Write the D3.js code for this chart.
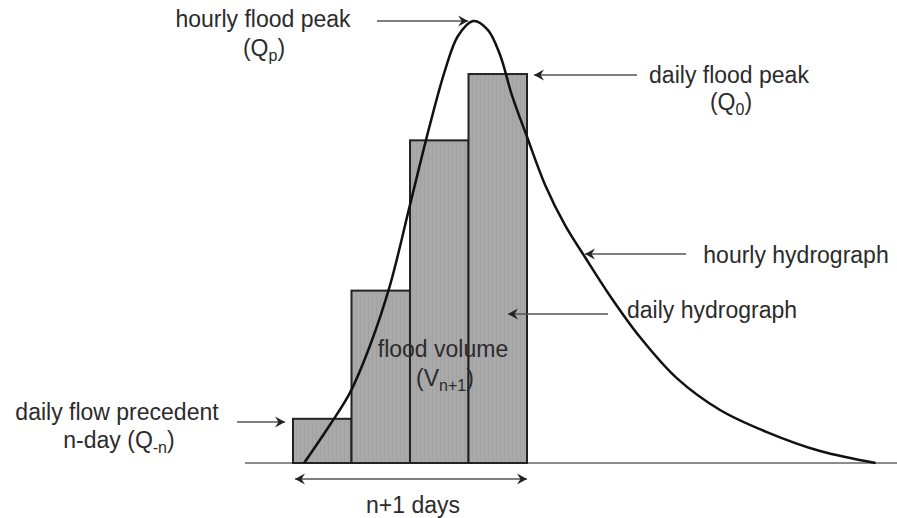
<!DOCTYPE html>
<html>
<head>
<meta charset="utf-8">
<script src="https://cdn.jsdelivr.net/npm/d3@7"></script>
<style>
  body { margin: 0; background: #fff; }
  svg { display: block; }
</style>
</head>
<body>
<svg id="chart"></svg>
<script>
// daily bars (day index, mean daily flow, % of hourly peak)
const days = [0, 1, 2, 3];
const dailyFlow = [10, 39, 73, 88];

// hourly hydrograph (day, flow)
const hourT = [0.19, 0.63, 0.97, 1.32, 1.66, 2.0, 2.34, 2.6, 2.82, 3.08, 3.33, 3.54, 3.74, 4.0, 4.31, 4.65, 4.99, 5.42, 5.93, 6.56, 7.3, 8.1, 9.01, 9.96];
const hourQ = [0, 8.6, 15.8, 26.7, 40.3, 58.4, 76.5, 88.9, 96.6, 100, 98.0, 92.3, 83.3, 73.8, 62.9, 53.8, 46.6, 37.8, 28.5, 19.2, 12.0, 7.0, 2.7, 0];

const width = 897, height = 518;
const svg = d3.select('#chart').attr('width', width).attr('height', height);

const x = d3.scaleLinear().domain([0, 4]).range([293, 527]);
const y = d3.scaleLinear().domain([0, 100]).range([463, 21]);

const textColor = '#2b2b2b';
const arrowColor = '#555';
const font = '"Liberation Sans", Arial, sans-serif';

// arrow head
const defs = svg.append('defs');
defs.append('marker')
  .attr('id', 'head')
  .attr('viewBox', '-10 -6 12 12')
  .attr('refX', 0)
  .attr('refY', 0)
  .attr('markerWidth', 12)
  .attr('markerHeight', 12)
  .attr('markerUnits', 'userSpaceOnUse')
  .attr('orient', 'auto-start-reverse')
  .append('path')
  .attr('d', 'M0,0 L-10,-5.5 L-6.5,0 L-10,5.5 Z')
  .attr('fill', '#222');

// faint vertical texture in the bars
const pat = defs.append('pattern')
  .attr('id', 'stripes')
  .attr('patternUnits', 'userSpaceOnUse')
  .attr('width', 4)
  .attr('height', 4);
pat.append('rect').attr('width', 4).attr('height', 4).attr('fill', '#a9a9a9');
pat.append('rect').attr('width', 1).attr('height', 4).attr('fill', '#a2a2a2');

// baseline
svg.append('line')
  .attr('x1', x(-0.82)).attr('x2', width)
  .attr('y1', y(0)).attr('y2', y(0))
  .attr('stroke', '#666')
  .attr('stroke-width', 1.5);

// daily bars
svg.append('g')
  .selectAll('rect')
  .data(days)
  .enter()
  .append('rect')
  .attr('x', d => x(d))
  .attr('y', (d, i) => y(dailyFlow[i]))
  .attr('width', d => x(d + 1) - x(d))
  .attr('height', (d, i) => y(0) - y(dailyFlow[i]))
  .attr('fill', 'url(#stripes)')
  .attr('stroke', '#222')
  .attr('stroke-width', 2);

// hourly hydrograph
const line = d3.line()
  .x(d => x(d[0]))
  .y(d => y(d[1]))
  .curve(d3.curveCatmullRom.alpha(0.5));

svg.append('path')
  .datum(hourT.map((t, i) => [t, hourQ[i]]))
  .attr('d', line)
  .attr('fill', 'none')
  .attr('stroke', '#111')
  .attr('stroke-width', 2.5);

// pointer arrows
const arrows = [
  [377, y(100), x(3.08) - 5, y(100)],
  [637, 75, x(4) + 7, 75],
  [686, 254, 585, 254],
  [608, 314, 508, 314],
  [237, 422, x(0) - 8, 422]
];
svg.append('g')
  .selectAll('line')
  .data(arrows)
  .enter()
  .append('line')
  .attr('x1', d => d[0]).attr('y1', d => d[1])
  .attr('x2', d => d[2]).attr('y2', d => d[3])
  .attr('stroke', arrowColor)
  .attr('stroke-width', 1.5)
  .attr('marker-end', 'url(#head)');

// n+1 days span
svg.append('line')
  .attr('x1', x(0) + 2).attr('x2', x(4))
  .attr('y1', 479).attr('y2', 479)
  .attr('stroke', arrowColor)
  .attr('stroke-width', 1.5)
  .attr('marker-start', 'url(#head)')
  .attr('marker-end', 'url(#head)');

// labels
const label = (cx, cy, parts) => {
  const t = svg.append('text')
    .attr('x', cx)
    .attr('y', cy)
    .attr('text-anchor', 'middle')
    .attr('font-family', font)
    .attr('font-size', 23)
    .attr('fill', textColor);
  parts.forEach(p => {
    if (typeof p === 'string') {
      t.append('tspan').text(p);
    } else {
      t.append('tspan').attr('font-size', 16).attr('dy', 5).text(p.sub);
      t.append('tspan').attr('dy', -5).text(p.after);
    }
  });
  return t;
};

label(263, 27, ['hourly flood peak']);
label(264, 56, ['(Q', { sub: 'p', after: ')' }]);
label(729, 83, ['daily flood peak']);
label(731, 110, ['(Q', { sub: '0', after: ')' }]);
label(796, 263, ['hourly hydrograph']);
label(712, 318, ['daily hydrograph']);
label(443, 357, ['flood volume']);
label(445, 386, ['(V', { sub: 'n+1', after: ')' }]);
label(117, 420, ['daily flow precedent']);
label(119, 448, ['n-day (Q', { sub: '-n', after: ')' }]);
label(413, 513, ['n+1 days']);
</script>
</body>
</html>
